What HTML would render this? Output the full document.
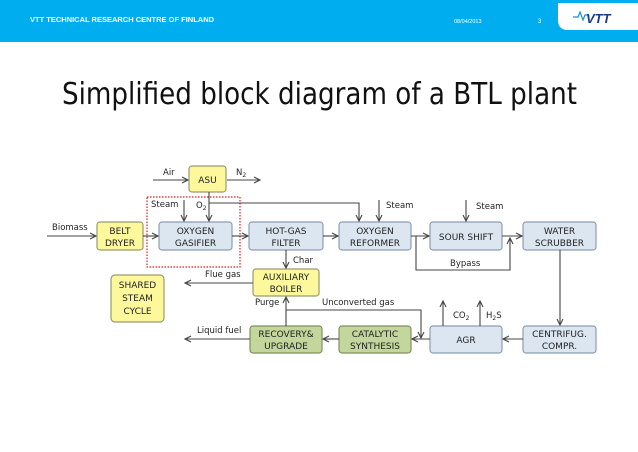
<!DOCTYPE html>
<html><head><meta charset="utf-8"><style>
html,body{margin:0;padding:0;background:#fff;}
svg{display:block;font-family:"DejaVu Sans","Liberation Sans",sans-serif;}
.b{fill:#dce6f1;stroke:#8c9db3;stroke-width:1.2;}
.y{fill:#fdf89c;stroke:#9a9a70;stroke-width:1.2;}
.g{fill:#c3d69b;stroke:#7f9160;stroke-width:1.2;}
.t{font-size:9px;fill:#222;text-anchor:middle;}
.l{font-size:8.5px;fill:#222;}
.ln{stroke:#444;stroke-width:1.1;fill:none;}
</style></head><body>
<svg width="638" height="452" viewBox="0 0 638 452">
<defs><marker id="a" markerWidth="8" markerHeight="8" refX="7" refY="4" orient="auto" markerUnits="userSpaceOnUse"><path d="M1,1 L7,4 L1,7" fill="none" stroke="#444" stroke-width="1.1"/></marker></defs>
<rect x="0" y="0" width="638" height="42" fill="#00aeef"/>
<path d="M558,3 H638 V30 H568 Q558,30 558,20 Z" fill="#fff"/>
<text x="30" y="22" font-family="Liberation Sans" font-weight="bold" font-size="7.5" fill="#fff">VTT TECHNICAL RESEARCH CENTRE OF FINLAND</text>
<text x="454" y="23" font-family="Liberation Sans" font-size="5.5" fill="#fff">08/04/2013</text>
<text x="538" y="23" font-family="Liberation Sans" font-size="6" fill="#fff">3</text>
<path d="M573,17 L578,17 L580,12 L583,20 L585,15 L588,15" stroke="#1a8fd0" stroke-width="1.2" fill="none"/>
<text x="586" y="23" font-family="Liberation Sans" font-weight="bold" font-style="italic" font-size="13" fill="#1a3b8c">VTT</text>
<text x="62" y="104" font-size="30" fill="#111" textLength="515" lengthAdjust="spacingAndGlyphs">Simplified block diagram of a BTL plant</text>

<rect x="147" y="197" width="93" height="70" fill="none" stroke="#d62020" stroke-width="1.2" stroke-dasharray="1.5,1.5"/>

<rect class="y" x="189" y="166" width="37" height="26" rx="3"/><text class="t" x="207.5" y="183">ASU</text>
<rect class="y" x="97" y="222" width="46" height="28" rx="3"/><text class="t" x="120" y="234">BELT</text><text class="t" x="120" y="246">DRYER</text>
<rect class="b" x="159" y="222" width="73" height="28" rx="3"/><text class="t" x="195.5" y="234">OXYGEN</text><text class="t" x="195.5" y="246">GASIFIER</text>
<rect class="b" x="249" y="222" width="74" height="28" rx="3"/><text class="t" x="286" y="234">HOT-GAS</text><text class="t" x="286" y="246">FILTER</text>
<rect class="b" x="339" y="222" width="72" height="28" rx="3"/><text class="t" x="375" y="234">OXYGEN</text><text class="t" x="375" y="246">REFORMER</text>
<rect class="b" x="430" y="222" width="72" height="28" rx="3"/><text class="t" x="466" y="240">SOUR SHIFT</text>
<rect class="b" x="523" y="222" width="73" height="28" rx="3"/><text class="t" x="559.5" y="234">WATER</text><text class="t" x="559.5" y="246">SCRUBBER</text>
<rect class="y" x="253" y="269" width="66" height="27" rx="3"/><text class="t" x="286" y="280">AUXILIARY</text><text class="t" x="286" y="292">BOILER</text>
<rect class="y" x="111" y="275" width="53" height="47" rx="4"/><text class="t" x="137.5" y="288">SHARED</text><text class="t" x="137.5" y="301">STEAM</text><text class="t" x="137.5" y="314">CYCLE</text>
<rect class="g" x="250" y="326" width="72" height="27" rx="3"/><text class="t" x="286" y="337">RECOVERY&amp;</text><text class="t" x="286" y="349">UPGRADE</text>
<rect class="g" x="339" y="326" width="72" height="27" rx="3"/><text class="t" x="375" y="337">CATALYTIC</text><text class="t" x="375" y="349">SYNTHESIS</text>
<rect class="b" x="430" y="326" width="72" height="27" rx="3"/><text class="t" x="466" y="343">AGR</text>
<rect class="b" x="523" y="326" width="73" height="27" rx="3"/><text class="t" x="559.5" y="337">CENTRIFUG.</text><text class="t" x="559.5" y="349">COMPR.</text>

<g class="ln">
<line x1="153" y1="180" x2="188" y2="180" marker-end="url(#a)"/>
<line x1="227" y1="180" x2="260" y2="180" marker-end="url(#a)"/>
<line x1="184" y1="200" x2="184" y2="221" marker-end="url(#a)"/>
<line x1="209" y1="192" x2="209" y2="221" marker-end="url(#a)"/>
<polyline points="209,203 359,203 359,221" marker-end="url(#a)"/>
<line x1="379" y1="200" x2="379" y2="221" marker-end="url(#a)"/>
<line x1="466" y1="200" x2="466" y2="221" marker-end="url(#a)"/>
<line x1="47" y1="236" x2="96" y2="236" marker-end="url(#a)"/>
<line x1="143" y1="236" x2="158" y2="236" marker-end="url(#a)"/>
<line x1="232" y1="236" x2="248" y2="236" marker-end="url(#a)"/>
<line x1="323" y1="236" x2="338" y2="236" marker-end="url(#a)"/>
<line x1="411" y1="236" x2="429" y2="236" marker-end="url(#a)"/>
<line x1="502" y1="236" x2="522" y2="236" marker-end="url(#a)"/>
<polyline points="416,236 416,270 510,270 510,238" marker-end="url(#a)"/>
<line x1="286" y1="250" x2="286" y2="268" marker-end="url(#a)"/>
<line x1="253" y1="283" x2="185" y2="283" marker-end="url(#a)"/>
<line x1="286" y1="326" x2="286" y2="297" marker-end="url(#a)"/>
<polyline points="286,310 421,310 421,338" marker-end="url(#a)"/>
<line x1="560" y1="250" x2="560" y2="325" marker-end="url(#a)"/>
<line x1="523" y1="339" x2="503" y2="339" marker-end="url(#a)"/>
<line x1="430" y1="339" x2="412" y2="339" marker-end="url(#a)"/>
<line x1="339" y1="339" x2="323" y2="339" marker-end="url(#a)"/>
<line x1="250" y1="339" x2="185" y2="339" marker-end="url(#a)"/>
<line x1="443" y1="326" x2="443" y2="301" marker-end="url(#a)"/>
<line x1="480" y1="326" x2="480" y2="301" marker-end="url(#a)"/>
</g>
<text class="l" x="163" y="175">Air</text>
<text class="l" x="236" y="175">N<tspan font-size="6" dy="2">2</tspan></text>
<text class="l" x="151" y="207">Steam</text>
<text class="l" x="196" y="208">O<tspan font-size="6" dy="2">2</tspan></text>
<text class="l" x="386" y="208">Steam</text>
<text class="l" x="476" y="209">Steam</text>
<text class="l" x="52" y="230">Biomass</text>
<text class="l" x="450" y="266">Bypass</text>
<text class="l" x="293" y="263">Char</text>
<text class="l" x="205" y="277">Flue gas</text>
<text class="l" x="255" y="305">Purge</text>
<text class="l" x="322" y="305">Unconverted gas</text>
<text class="l" x="197" y="333">Liquid fuel</text>
<text class="l" x="453" y="318">CO<tspan font-size="6" dy="2">2</tspan></text>
<text class="l" x="486" y="318">H<tspan font-size="6" dy="2">2</tspan><tspan dy="-2">S</tspan></text>
</svg>
</body></html>
